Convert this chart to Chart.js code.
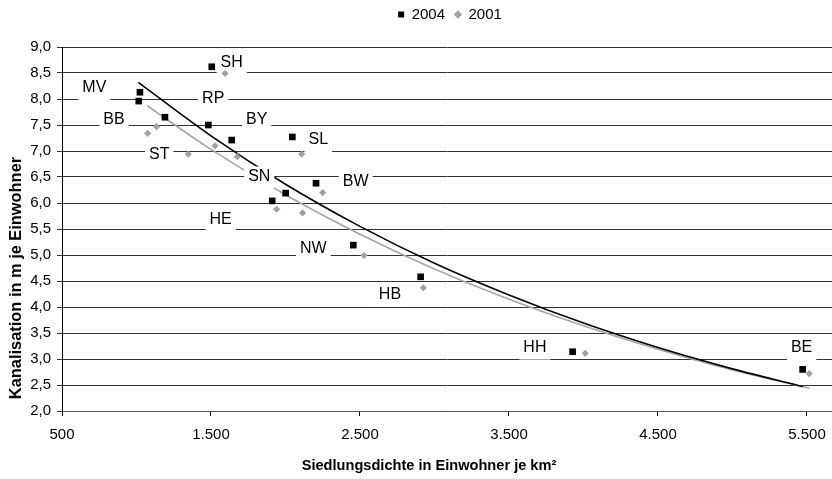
<!DOCTYPE html>
<html>
<head>
<meta charset="utf-8">
<script src="https://cdn.jsdelivr.net/npm/chart.js@4/dist/chart.umd.min.js"></script>
<style>
  html, body { margin: 0; padding: 0; background: #fff; }
  #wrap { width: 832px; height: 479px; position: relative; }
</style>
</head>
<body>
<div id="wrap"><canvas id="densityChart"></canvas></div>
<script>
// Kanalisation je Einwohner vs. Siedlungsdichte, Bundesländer
const states = ['SH', 'MV', 'RP', 'BB', 'BY', 'SL', 'ST', 'SN', 'BW', 'HE', 'NW', 'HB', 'HH', 'BE'];

// 2004 values (x = density, y = m per inhabitant)
const density2004 = [1505, 1023, 1015, 1191, 1482, 2046, 1639, 2001, 2205, 1911, 2455, 2907, 3927, 5471];
const sewer2004   = [8.62, 8.13, 7.96, 7.65, 7.50, 7.27, 7.21, 6.19, 6.38, 6.04, 5.19, 4.58, 3.14, 2.80];

// 2001 values
const density2001 = [1594, 1075, 1135, 1348, 1527, 2109, 1677, 2250, 1941, 2115, 2527, 2925, 4012, 5515];
const sewer2001   = [8.49, 7.34, 7.47, 6.94, 7.10, 6.94, 6.89, 6.20, 5.88, 5.81, 4.99, 4.37, 3.11, 2.72];

// trend lines
const trendX2004 = [1012, 1500, 2000, 2500, 3000, 3500, 4000, 4500, 5000, 5471];
const trendY2004 = [8.32, 7.29, 6.36, 5.55, 4.84, 4.23, 3.69, 3.22, 2.81, 2.47];
const trendX2001 = [1072, 1500, 2000, 2500, 3000, 3500, 4000, 4500, 5000, 5515];
const trendY2001 = [7.87, 7.03, 6.16, 5.40, 4.73, 4.15, 3.64, 3.19, 2.79, 2.44];

// where each state label sits (data coordinates of the text centre)
const labelX = [1639, 717, 1515, 849, 1807, 2220, 1153, 1824, 2471, 1565, 2187, 2701, 3674, 5464];
const labelY = [8.70, 8.21, 8.01, 7.61, 7.61, 7.21, 6.94, 6.51, 6.41, 5.69, 5.12, 4.23, 3.22, 3.21];

const xTicks = [500, 1500, 2500, 3500, 4500, 5500];

const FONT = "'Liberation Sans', Arial, sans-serif";

function toPoints(xs, ys) {
    return xs.map((x, i) => ({ x: x, y: ys[i] }));
}

// labels go on top of the trend lines but under the markers
const stateLabels = {
    id: 'stateLabels',
    afterDatasetDraw(chart, args) {
        if (args.index !== 2) return;
        const ctx = chart.ctx;
        const xs = chart.scales.x, ys = chart.scales.y;
        ctx.save();
        ctx.font = '16px ' + FONT;
        ctx.textAlign = 'center';
        ctx.textBaseline = 'middle';
        states.forEach((name, i) => {
            const cx = xs.getPixelForValue(labelX[i]);
            const cy = ys.getPixelForValue(labelY[i]);
            const w = ctx.measureText(name).width;
            ctx.fillStyle = '#fff';
            ctx.fillRect(cx - w / 2 - 4, cy - 10, w + 8, 22);
            ctx.fillStyle = '#000';
            ctx.fillText(name, cx, cy);
        });
        ctx.restore();
    }
};

const axisTitles = {
    id: 'axisTitles',
    afterDraw(chart) {
        const ctx = chart.ctx;
        ctx.save();
        ctx.fillStyle = '#000';
        ctx.textAlign = 'center';
        ctx.textBaseline = 'middle';
        ctx.font = 'bold 14.6px ' + FONT;
        ctx.fillText('Siedlungsdichte in Einwohner je km²', 429, 466);
        ctx.translate(16, 278);
        ctx.rotate(-Math.PI / 2);
        ctx.font = 'bold 16.4px ' + FONT;
        ctx.fillText('Kanalisation in m je Einwohner', 0, 0);
        ctx.restore();
    }
};

// fixed legend box height, legend shifted to sit where the original one is
const legendPlace = {
    id: 'legendPlace',
    beforeInit(chart) {
        const fit = chart.legend.fit;
        chart.legend.fit = function() {
            fit.call(this);
            this.height = 47;
        };
    },
    afterLayout(chart) {
        chart.legend.left += 34;
        chart.legend.right += 34;
        chart.legend.top -= 3;
    }
};

const ctx = document.getElementById('densityChart').getContext('2d');
const densityChart = new Chart(ctx, {
    type: 'scatter',
    data: {
        datasets: [
            {
                label: '2004',
                data: toPoints(density2004, sewer2004),
                pointStyle: 'rect',
                pointRadius: 4.7,
                pointHoverRadius: 4.7,
                backgroundColor: '#000',
                borderColor: '#000',
                borderWidth: 0
            },
            {
                label: '2001',
                data: toPoints(density2001, sewer2001),
                pointStyle: 'rectRot',
                pointRadius: 3.6,
                pointHoverRadius: 3.6,
                backgroundColor: '#a0a0a0',
                borderColor: '#a0a0a0',
                borderWidth: 0
            },
            {
                label: 'trend2004',
                data: toPoints(trendX2004, trendY2004),
                showLine: true,
                pointRadius: 0,
                borderColor: '#000',
                borderWidth: 1.6,
                cubicInterpolationMode: 'monotone'
            },
            {
                label: 'trend2001',
                data: toPoints(trendX2001, trendY2001),
                showLine: true,
                pointRadius: 0,
                borderColor: '#a6a6a6',
                borderWidth: 1.6,
                cubicInterpolationMode: 'monotone'
            }
        ]
    },
    options: {
        responsive: true,
        maintainAspectRatio: false,
        animation: false,
        layout: { padding: 0, autoPadding: false },
        plugins: {
            legend: {
                position: 'top',
                labels: {
                    filter: item => item.datasetIndex < 2,
                    usePointStyle: true,
                    boxWidth: 6,
                    boxHeight: 6,
                    padding: 10,
                    color: '#000',
                    font: { family: FONT, size: 15 }
                }
            },
            tooltip: { enabled: false }
        },
        scales: {
            x: {
                type: 'linear',
                min: 500,
                max: 5668,
                afterBuildTicks: scale => { scale.ticks = xTicks.map(v => ({ value: v })); },
                afterFit: scale => {
                    scale.height = 68;
                    scale.paddingLeft = 0;
                    scale.paddingRight = 0;
                },
                grid: { drawOnChartArea: false, drawTicks: true, tickLength: 5, color: '#000' },
                border: { display: true, color: '#555' },
                ticks: {
                    color: '#000',
                    padding: 10,
                    maxRotation: 0,
                    font: { family: FONT, size: 15 },
                    callback: v => v.toLocaleString('de-DE')
                }
            },
            y: {
                min: 2,
                max: 9,
                afterFit: scale => { scale.width = 62; },
                grid: { color: '#333', tickLength: 5 },
                border: { display: true, color: '#000' },
                ticks: {
                    stepSize: 0.5,
                    color: '#000',
                    padding: 6,
                    font: { family: FONT, size: 15 },
                    callback: v => v.toFixed(1).replace('.', ',')
                }
            }
        }
    },
    plugins: [legendPlace, stateLabels, axisTitles]
});
</script>
</body>
</html>
